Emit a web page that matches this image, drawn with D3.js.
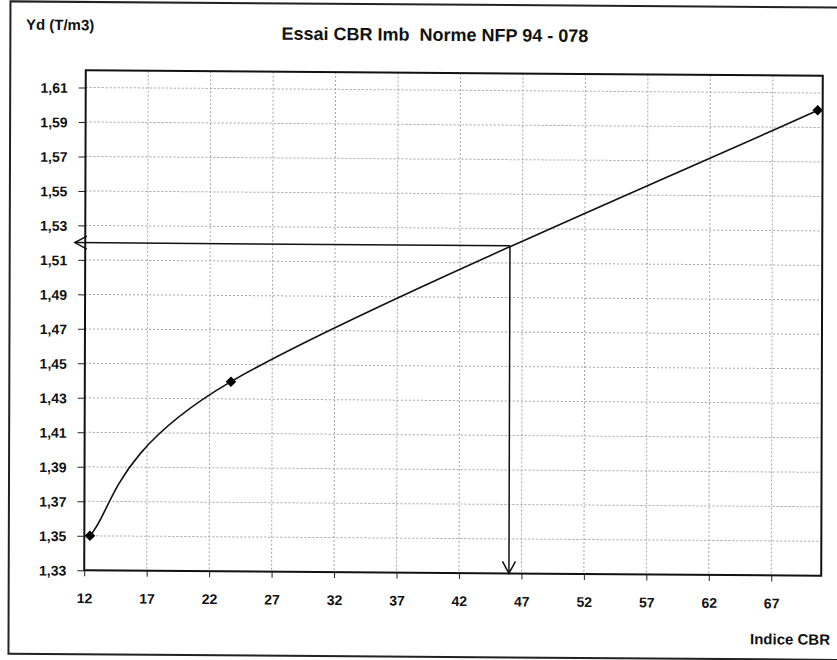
<!DOCTYPE html>
<html>
<head>
<meta charset="utf-8">
<script src="https://cdn.jsdelivr.net/npm/d3@7"></script>
<style>
  html, body { margin: 0; padding: 0; background: #fff; }
  svg { display: block; }
  text { font-family: "Liberation Sans", Arial, sans-serif; fill: #111; }
</style>
</head>
<body>
<svg id="chart" width="837" height="660"></svg>
<script>
// CBR test points: dry density (T/m3) against CBR index
const cbrValues = [12.45, 23.7, 70.6];
const ydValues = [1.35, 1.44, 1.60];

// Reading taken off the curve
const readCbr = [46];
const readYd = [1.52];

// Axis ticks
const xTickValues = [12, 17, 22, 27, 32, 37, 42, 47, 52, 57, 62, 67];
const yTickValues = [1.33, 1.35, 1.37, 1.39, 1.41, 1.43, 1.45, 1.47, 1.49, 1.51, 1.53, 1.55, 1.57, 1.59, 1.61];
const xDomain = [12, 71];
const yDomain = [1.33, 1.62];

const titleText = "Essai CBR Imb  Norme NFP 94 - 078";
const yAxisTitle = "Yd (T/m3)";
const xAxisTitle = "Indice CBR";

const W = 837, H = 660;
const plot = { left: 85, right: 822, top: 73, bottom: 573 };

const svg = d3.select("#chart");

// the sheet sits slightly askew on the page
const cx = 453, cy = 322, skA = 0.0031, skB = 0.0075;
const root = svg.append("g")
  .attr("transform", `matrix(1,${skB},${-skA},1,${skA * cy},${-skB * cx})`);

const x = d3.scaleLinear().domain(xDomain).range([plot.left, plot.right]);
const y = d3.scaleLinear().domain(yDomain).range([plot.bottom, plot.top]);

const frLocale = d3.formatLocale({ decimal: ",", thousands: " ", grouping: [3], currency: ["", " €"] });
const fmtY = frLocale.format(".2f");

// Spreadsheet-style smoothed line: cubic Béziers whose tangents at each
// point follow the neighbouring points (end points use themselves).
function curveSpreadsheetSmooth(context) {
  let pts = [];
  return {
    areaStart() {}, areaEnd() {},
    lineStart() { pts = []; },
    point(px, py) { pts.push([+px, +py]); },
    lineEnd() {
      const n = pts.length;
      if (!n) return;
      context.moveTo(pts[0][0], pts[0][1]);
      for (let i = 0; i < n - 1; i++) {
        const p0 = pts[Math.max(i - 1, 0)], p1 = pts[i], p2 = pts[i + 1], p3 = pts[Math.min(i + 2, n - 1)];
        context.bezierCurveTo(
          p1[0] + (p2[0] - p0[0]) / 6, p1[1] + (p2[1] - p0[1]) / 6,
          p2[0] - (p3[0] - p1[0]) / 6, p2[1] - (p3[1] - p1[1]) / 6,
          p2[0], p2[1]);
      }
    }
  };
}

// outer frame
root.append("rect")
  .attr("x", 9.5).attr("y", 4.7)
  .attr("width", 833).attr("height", 652.3)
  .attr("fill", "none").attr("stroke", "#222").attr("stroke-width", 2);

// grid
const grid = root.append("g").attr("class", "grid")
  .attr("stroke", "#a4a4a4").attr("stroke-width", 1).attr("stroke-dasharray", "2,2");
grid.selectAll("line.h").data(yTickValues.filter(v => v > yDomain[0]))
  .join("line").attr("class", "h")
  .attr("x1", plot.left).attr("x2", plot.right)
  .attr("y1", d => y(d)).attr("y2", d => y(d));
grid.selectAll("line.v").data(xTickValues.filter(v => v > xDomain[0]))
  .join("line").attr("class", "v")
  .attr("y1", plot.top).attr("y2", plot.bottom)
  .attr("x1", d => x(d)).attr("x2", d => x(d));

// axes
const yAxis = d3.axisLeft(y).tickValues(yTickValues).tickFormat(fmtY).tickSize(7).tickPadding(11);
const xAxis = d3.axisBottom(x).tickValues(xTickValues).tickFormat(d3.format("d")).tickSize(6).tickPadding(17);

const gy = root.append("g").attr("transform", `translate(${plot.left},0)`).call(yAxis);
const gx = root.append("g").attr("transform", `translate(0,${plot.bottom})`).call(xAxis);
[gy, gx].forEach(g => {
  g.select(".domain").remove();
  g.selectAll(".tick line").attr("stroke", "#222").attr("stroke-width", 1);
  g.selectAll(".tick text")
    .attr("font-family", "'Liberation Sans', Arial, sans-serif")
    .attr("font-size", 14).attr("font-weight", "bold").attr("fill", "#111");
});
gy.selectAll(".tick text").attr("dy", "0.36em");

// plot frame
root.append("rect")
  .attr("x", plot.left).attr("y", plot.top)
  .attr("width", plot.right - plot.left).attr("height", plot.bottom - plot.top)
  .attr("fill", "none").attr("stroke", "#111").attr("stroke-width", 2);

// smoothed curve through the test points
const pts = cbrValues.map((c, i) => [c, ydValues[i]]);
const line = d3.line().x(d => x(d[0])).y(d => y(d[1])).curve(curveSpreadsheetSmooth);
root.append("path").datum(pts)
  .attr("d", line).attr("fill", "none").attr("stroke", "#111").attr("stroke-width", 1.6);

// open arrowhead
const defs = svg.append("defs");
defs.append("marker")
  .attr("id", "arrow").attr("markerUnits", "userSpaceOnUse")
  .attr("viewBox", "-14 -8 16 16").attr("refX", 0).attr("refY", 0)
  .attr("markerWidth", 16).attr("markerHeight", 16).attr("orient", "auto")
  .append("path").attr("d", "M-12,-6.5L0,0L-12,6.5")
  .attr("fill", "none").attr("stroke", "#111").attr("stroke-width", 1.5);

// reading: from the curve across to the Yd axis and down to the CBR axis
readCbr.forEach((c, i) => {
  const yd = readYd[i];
  root.append("line")
    .attr("x1", x(c)).attr("y1", y(yd))
    .attr("x2", x(11.17)).attr("y2", y(yd))
    .attr("stroke", "#111").attr("stroke-width", 1.5)
    .attr("marker-end", "url(#arrow)");
  root.append("line")
    .attr("x1", x(c)).attr("y1", y(yd))
    .attr("x2", x(c)).attr("y2", y(yDomain[0]))
    .attr("stroke", "#111").attr("stroke-width", 1.5)
    .attr("marker-end", "url(#arrow)");
});

// markers
root.selectAll("path.pt").data(pts).join("path")
  .attr("class", "pt")
  .attr("d", d3.symbol(d3.symbolSquare, 56))
  .attr("transform", d => `translate(${x(d[0])},${y(d[1])}) rotate(45)`)
  .attr("fill", "#000");

// titles
root.append("text")
  .attr("x", 434).attr("y", 41)
  .attr("text-anchor", "middle")
  .attr("font-size", 18).attr("font-weight", "bold")
  .style("white-space", "pre")
  .text(titleText);

root.append("text")
  .attr("x", 25).attr("y", 33)
  .attr("font-size", 15).attr("font-weight", "bold")
  .text(yAxisTitle);

root.append("text")
  .attr("x", 831).attr("y", 642)
  .attr("text-anchor", "end")
  .attr("font-size", 15).attr("font-weight", "bold")
  .text(xAxisTitle);
</script>
</body>
</html>
